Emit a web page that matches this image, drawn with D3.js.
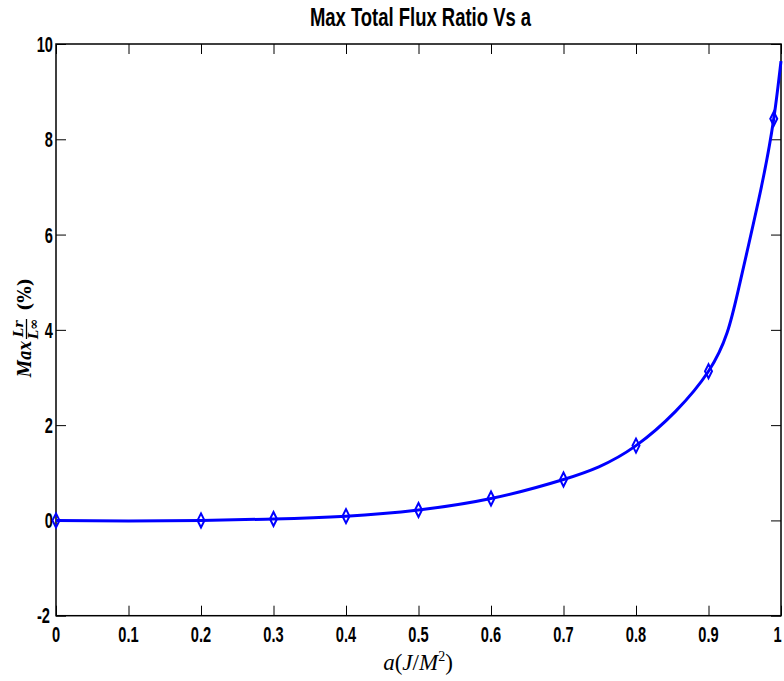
<!DOCTYPE html>
<html><head><meta charset="utf-8">
<script src="https://cdn.jsdelivr.net/npm/d3@7"></script>
<style>body{margin:0;background:#fff}svg{display:block}</style>
</head><body>
<svg id="chart" width="784" height="681"></svg>
<script>
// Data
const markerA = [0, 0.2, 0.3, 0.4, 0.5, 0.6, 0.7, 0.8, 0.9, 0.99];
const markerV = [0, 0, 0.03, 0.09, 0.22, 0.46, 0.86, 1.57, 3.13, 8.43];
const curveA = [0, 0.1, 0.2, 0.3, 0.4, 0.5, 0.6, 0.7, 0.8, 0.9, 0.941, 0.972, 0.99, 1.0];
const curveV = [0, -0.01, 0, 0.03, 0.09, 0.22, 0.46, 0.86, 1.57, 3.13, 4.83, 6.93, 8.43, 9.64];
const xTicks = [0, 0.1, 0.2, 0.3, 0.4, 0.5, 0.6, 0.7, 0.8, 0.9, 1];
const xTickLabels = ["0", "0.1", "0.2", "0.3", "0.4", "0.5", "0.6", "0.7", "0.8", "0.9", "1"];
const yTicks = [-2, 0, 2, 4, 6, 8, 10];
const yTickLabels = ["-2", "0", "2", "4", "6", "8", "10"];
const title = "Max Total Flux Ratio Vs a";

const svg = d3.select("#chart");
const L = 56, R = 781, T = 44, B = 615.7;
const x = d3.scaleLinear().domain([0, 1]).range([L, R]);
const y = d3.scaleLinear().domain([-2, 10]).range([B, T]);
const COND = 0.68;
const tickFont = "'Liberation Sans', Arial, sans-serif";

function condense(sel, f) {
  sel.each(function() {
    const w = this.getComputedTextLength();
    d3.select(this).attr("textLength", w * f).attr("lengthAdjust", "spacingAndGlyphs");
  });
}

// Axes (ticks inside, mirrored)
const tl = 10;
const axB = svg.append("g").attr("transform", `translate(0,${B})`)
  .call(d3.axisTop(x).tickValues(xTicks).tickSize(tl).tickFormat(""));
const axT = svg.append("g").attr("transform", `translate(0,${T})`)
  .call(d3.axisBottom(x).tickValues(xTicks).tickSize(tl).tickFormat(""));
const axL = svg.append("g").attr("transform", `translate(${L},0)`)
  .call(d3.axisRight(y).tickValues(yTicks).tickSize(tl).tickFormat(""));
const axR = svg.append("g").attr("transform", `translate(${R},0)`)
  .call(d3.axisLeft(y).tickValues(yTicks).tickSize(tl).tickFormat(""));
[axB, axT, axL, axR].forEach(a => {
  a.select(".domain").remove();
  a.selectAll(".tick line").attr("stroke", "#000").attr("stroke-width", 1);
});
svg.append("rect").attr("x", L).attr("y", T).attr("width", R - L).attr("height", B - T)
  .attr("fill", "none").attr("stroke", "#000").attr("stroke-width", 1.5);

// Tick labels
const xl = svg.append("g").selectAll("text").data(xTicks).join("text")
  .attr("x", d => Math.min(x(d), 777.5)).attr("y", B + 26.5)
  .attr("text-anchor", "middle")
  .attr("font-family", tickFont).attr("font-weight", "bold").attr("font-size", 21.5)
  .text((d, i) => xTickLabels[i]);
condense(xl, COND);
const yl = svg.append("g").selectAll("text").data(yTicks).join("text")
  .attr("x", d => L - (d === -2 ? 6 : 3)).attr("y", d => y(d) + 8 - (d === -2 ? 1 : 0))
  .attr("text-anchor", "end")
  .attr("font-family", tickFont).attr("font-weight", "bold").attr("font-size", 21.5)
  .text((d, i) => yTickLabels[i]);
condense(yl, COND);

// Title
const tt = svg.append("text").attr("x", (L + R) / 2 + 2).attr("y", 25.5)
  .attr("text-anchor", "middle")
  .attr("font-family", tickFont).attr("font-weight", "bold").attr("font-size", 26)
  .text(title);
condense(tt, 0.71);

// X label
const xlab = svg.append("text").attr("x", 418).attr("y", 670)
  .attr("text-anchor", "middle")
  .attr("font-family", "'Liberation Serif', 'DejaVu Serif', serif")
  .attr("font-size", 23);
xlab.append("tspan").attr("font-style", "italic").text("a");
xlab.append("tspan").text("(");
xlab.append("tspan").attr("font-style", "italic").text("J");
xlab.append("tspan").text("/");
xlab.append("tspan").attr("font-style", "italic").text("M");
xlab.append("tspan").attr("font-size", 14).attr("dy", -9).text("2");
xlab.append("tspan").attr("dy", 9).text(")");

// Y label (rotated)
const serif = "'DejaVu Serif', 'Liberation Serif', serif";
const yg = svg.append("g").attr("transform", "translate(31,327) rotate(-90)");
yg.append("text").attr("x", -50).attr("y", 0)
  .attr("font-family", serif).attr("font-style", "italic").attr("font-weight", "bold")
  .attr("font-size", 18).attr("textLength", 36).attr("lengthAdjust", "spacingAndGlyphs")
  .text("Max");
yg.append("text").attr("x", -2).attr("y", -8).attr("text-anchor", "middle")
  .attr("font-family", serif).attr("font-style", "italic").attr("font-weight", "bold")
  .attr("font-size", 13).text("Lr");
yg.append("line").attr("x1", -12).attr("x2", 8).attr("y1", -4.5).attr("y2", -4.5)
  .attr("stroke", "#000").attr("stroke-width", 1.3);
yg.append("text").attr("x", -2).attr("y", 7).attr("text-anchor", "middle")
  .attr("font-family", serif).attr("font-style", "italic").attr("font-weight", "bold")
  .attr("font-size", 13).text("L∞");
yg.append("text").attr("x", 16).attr("y", 0)
  .attr("font-family", serif).attr("font-weight", "bold")
  .attr("font-size", 18).attr("textLength", 33).attr("lengthAdjust", "spacingAndGlyphs")
  .text("(%)");

// Curve
const curvePts = curveA.map((a, i) => [a, curveV[i]]);
svg.append("path").datum(curvePts)
  .attr("fill", "none").attr("stroke", "#0000ff").attr("stroke-width", 3)
  .attr("stroke-linejoin", "round")
  .attr("d", d3.line().x(d => x(d[0])).y(d => y(d[1])).curve(d3.curveNatural));

// Markers (hollow diamonds)
const mk = markerA.map((a, i) => [a, markerV[i]]);
svg.append("g").selectAll("path").data(mk).join("path")
  .attr("transform", d => `translate(${x(d[0])},${y(d[1])})`)
  .attr("d", "M0,-7L3.5,0L0,7L-3.5,0Z")
  .attr("fill", "none").attr("stroke", "#0000ff").attr("stroke-width", 2);
</script>
</body></html>
